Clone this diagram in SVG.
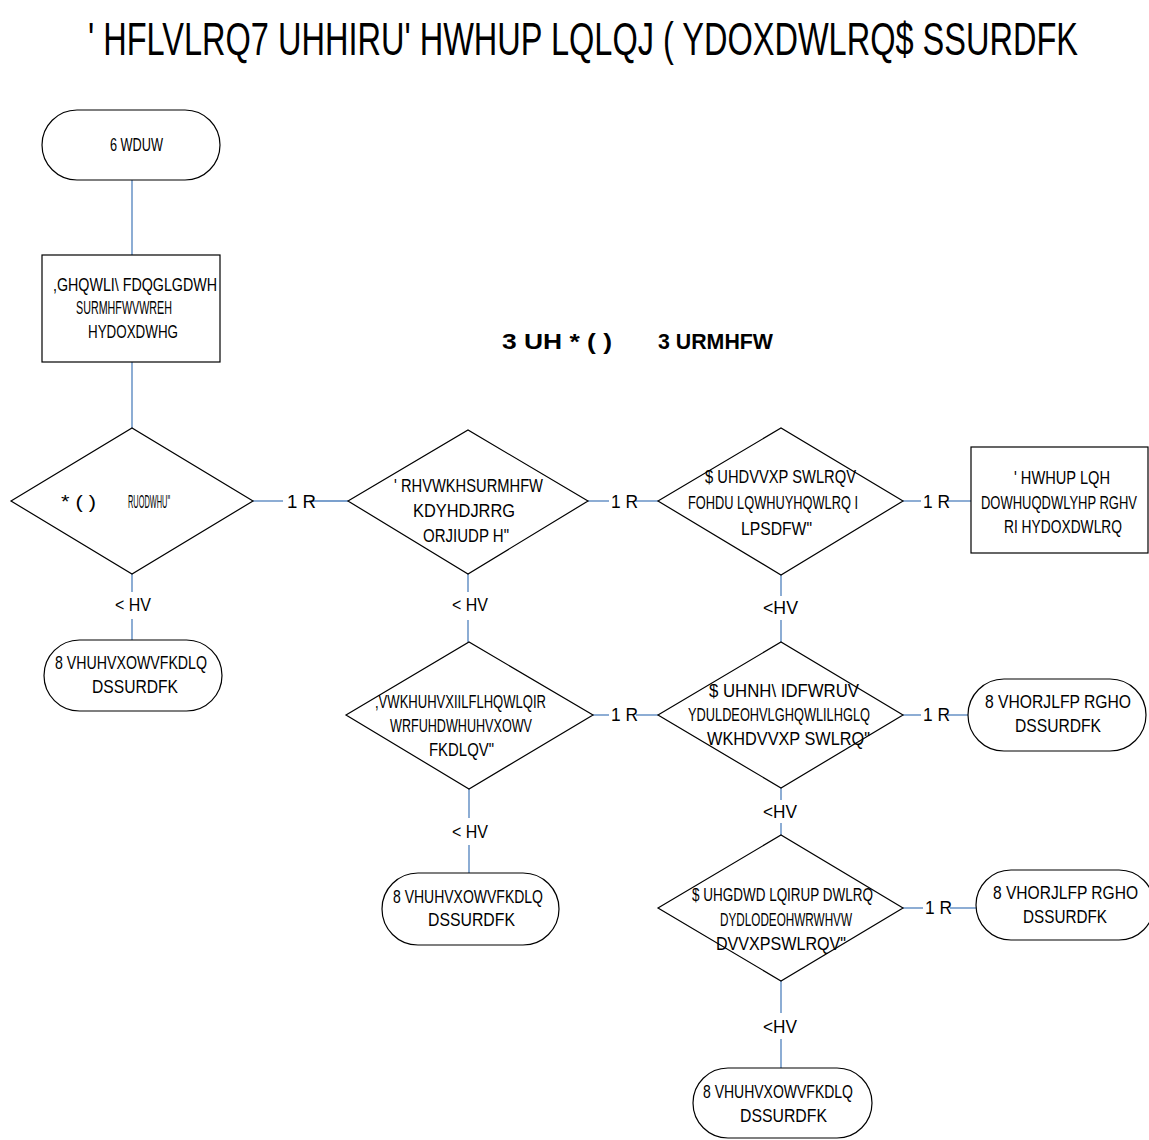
<svg xmlns="http://www.w3.org/2000/svg" width="1149" height="1140" viewBox="0 0 1149 1140">
  <style>
    .bg { fill: #ffffff; }
    .shape { fill: #ffffff; stroke: #000000; stroke-width: 1.2; }
    .conn { fill: none; stroke: #4F81BD; stroke-width: 1.3; }
    text { font-family: "Liberation Sans", Arial, sans-serif; fill: #000000; }
    .t { font-size: 19px; }
    .lbl { font-size: 19px; }
    .title { font-size: 46px; }
    .head { font-size: 22px; font-weight: bold; }
  </style>
  <rect class="bg" x="0" y="0" width="1149" height="1140"/>

  <!-- heading -->
  <g id="title">
    <text class="title" x="88" y="55" textLength="990" lengthAdjust="spacingAndGlyphs">' HFLVLRQ7 UHHIRU' HWHUP LQLQJ ( YDOXDWLRQ$ SSURDFK</text>
  </g>
  <g id="section-heading">
    <text class="head" x="502" y="349" textLength="110" lengthAdjust="spacingAndGlyphs">3 UH * ( )</text>
    <text class="head" x="658" y="349" textLength="115" lengthAdjust="spacingAndGlyphs">3 URMHFW</text>
  </g>

  <!-- connectors -->
  <g id="connectors" class="conn">
    <line x1="132" y1="180" x2="132" y2="255"/>
    <line x1="132" y1="362" x2="132" y2="428"/>
    <line x1="132" y1="574" x2="132" y2="592"/>
    <line x1="132" y1="619" x2="132" y2="640"/>
    <line x1="253" y1="501" x2="283" y2="501"/>
    <line x1="309" y1="501" x2="348" y2="501"/>
    <line x1="588" y1="501" x2="609" y2="501"/>
    <line x1="636" y1="501" x2="658" y2="501"/>
    <line x1="903" y1="501" x2="921" y2="501"/>
    <line x1="948" y1="501" x2="971" y2="501"/>
    <line x1="468" y1="574" x2="468" y2="592"/>
    <line x1="468" y1="620" x2="468" y2="642"/>
    <line x1="781" y1="575" x2="781" y2="596"/>
    <line x1="781" y1="620" x2="781" y2="642"/>
    <line x1="593" y1="715" x2="609" y2="715"/>
    <line x1="636" y1="715" x2="658" y2="715"/>
    <line x1="903" y1="715" x2="921" y2="715"/>
    <line x1="947" y1="715" x2="968" y2="715"/>
    <line x1="469" y1="789" x2="469" y2="818"/>
    <line x1="469" y1="845" x2="469" y2="873"/>
    <line x1="781" y1="788" x2="781" y2="800"/>
    <line x1="781" y1="823" x2="781" y2="835"/>
    <line x1="903" y1="908" x2="923" y2="908"/>
    <line x1="950" y1="908" x2="976" y2="908"/>
    <line x1="781" y1="981" x2="781" y2="1013"/>
    <line x1="781" y1="1039" x2="781" y2="1068"/>
  </g>

  <!-- connector labels -->
  <g id="connector-labels" class="lbl">
    <text x="287" y="508" textLength="29" lengthAdjust="spacingAndGlyphs">1 R</text>
    <text x="611" y="508" textLength="27" lengthAdjust="spacingAndGlyphs">1 R</text>
    <text x="923" y="508" textLength="27" lengthAdjust="spacingAndGlyphs">1 R</text>
    <text x="611" y="721" textLength="27" lengthAdjust="spacingAndGlyphs">1 R</text>
    <text x="923" y="721" textLength="27" lengthAdjust="spacingAndGlyphs">1 R</text>
    <text x="925" y="914" textLength="27" lengthAdjust="spacingAndGlyphs">1 R</text>
    <text x="115" y="611" textLength="36" lengthAdjust="spacingAndGlyphs">&lt; HV</text>
    <text x="452" y="611" textLength="36" lengthAdjust="spacingAndGlyphs">&lt; HV</text>
    <text x="763" y="614" textLength="35" lengthAdjust="spacingAndGlyphs">&lt;HV</text>
    <text x="452" y="838" textLength="36" lengthAdjust="spacingAndGlyphs">&lt; HV</text>
    <text x="763" y="818" textLength="34" lengthAdjust="spacingAndGlyphs">&lt;HV</text>
    <text x="763" y="1033" textLength="34" lengthAdjust="spacingAndGlyphs">&lt;HV</text>
  </g>

  <!-- nodes -->
  <g id="start">
    <rect class="shape" x="42" y="110" width="178" height="70" rx="35" ry="35"/>
    <text class="t" x="110" y="151" textLength="53" lengthAdjust="spacingAndGlyphs">6 WDUW</text>
  </g>

  <g id="identify-projects">
    <rect class="shape" x="42" y="255" width="178" height="107"/>
    <text class="t" x="53" y="291" textLength="164" lengthAdjust="spacingAndGlyphs">,GHQWLI\   FDQGLGDWH</text>
    <text class="t" x="76" y="314" textLength="96" lengthAdjust="spacingAndGlyphs">SURMHFWVWREH</text>
    <text class="t" x="88" y="338" textLength="90" lengthAdjust="spacingAndGlyphs">HYDOXDWHG</text>
  </g>

  <g id="decision-gef">
    <polygon class="shape" points="11,501 132,428 253,501 132,574"/>
    <text class="t" x="61" y="508" textLength="35" lengthAdjust="spacingAndGlyphs">* ( )</text>
    <text class="t" x="128" y="508" textLength="42" lengthAdjust="spacingAndGlyphs">RUODWHU"</text>
  </g>

  <g id="decision-logframe">
    <polygon class="shape" points="348,501 468,430 588,501 468,574"/>
    <text class="t" x="394" y="492" textLength="149" lengthAdjust="spacingAndGlyphs">' RHVWKHSURMHFW</text>
    <text class="t" x="413" y="517" textLength="102" lengthAdjust="spacingAndGlyphs">KDYHDJRRG</text>
    <text class="t" x="423" y="542" textLength="86" lengthAdjust="spacingAndGlyphs">ORJIUDP H"</text>
  </g>

  <g id="decision-assumptions">
    <polygon class="shape" points="658,501 781,428 903,501 781,575"/>
    <text class="t" x="705" y="483" textLength="151" lengthAdjust="spacingAndGlyphs">$ UHDVVXP SWLRQV</text>
    <text class="t" x="688" y="509" textLength="170" lengthAdjust="spacingAndGlyphs">FOHDU  LQWHUYHQWLRQ I</text>
    <text class="t" x="741" y="535" textLength="71" lengthAdjust="spacingAndGlyphs">LPSDFW"</text>
  </g>

  <g id="alternative-modes">
    <rect class="shape" x="971" y="447" width="177" height="106"/>
    <text class="t" x="1014" y="484" textLength="96" lengthAdjust="spacingAndGlyphs">' HWHUP LQH</text>
    <text class="t" x="981" y="509" textLength="156" lengthAdjust="spacingAndGlyphs">DOWHUQDWLYHP RGHV</text>
    <text class="t" x="1004" y="533" textLength="118" lengthAdjust="spacingAndGlyphs">RI HYDOXDWLRQ</text>
  </g>

  <g id="results-chain-1">
    <rect class="shape" x="44" y="640" width="178" height="71" rx="35.5" ry="35.5"/>
    <text class="t" x="55" y="669" textLength="152" lengthAdjust="spacingAndGlyphs">8 VHUHVXOWVFKDLQ</text>
    <text class="t" x="92" y="693" textLength="86" lengthAdjust="spacingAndGlyphs">DSSURDFK</text>
  </g>

  <g id="decision-info">
    <polygon class="shape" points="346,715 469,642 593,715 469,789"/>
    <text class="t" x="375" y="708" textLength="171" lengthAdjust="spacingAndGlyphs">,VWKHUHVXIILFLHQWLQIR</text>
    <text class="t" x="390" y="732" textLength="142" lengthAdjust="spacingAndGlyphs">WRFUHDWHUHVXOWV</text>
    <text class="t" x="429" y="756" textLength="65" lengthAdjust="spacingAndGlyphs">FKDLQV"</text>
  </g>

  <g id="decision-factors">
    <polygon class="shape" points="658,715 781,642 903,715 781,788"/>
    <text class="t" x="709" y="697" textLength="150" lengthAdjust="spacingAndGlyphs">$ UHNH\   IDFWRUV</text>
    <text class="t" x="688" y="721" textLength="182" lengthAdjust="spacingAndGlyphs">YDULDEOHVLGHQWLILHGLQ</text>
    <text class="t" x="707" y="745" textLength="163" lengthAdjust="spacingAndGlyphs">WKHDVVXP SWLRQ"</text>
  </g>

  <g id="logic-model-1">
    <rect class="shape" x="968" y="679" width="178" height="72" rx="36" ry="36"/>
    <text class="t" x="985" y="708" textLength="146" lengthAdjust="spacingAndGlyphs">8 VHORJLFP RGHO</text>
    <text class="t" x="1015" y="732" textLength="86" lengthAdjust="spacingAndGlyphs">DSSURDFK</text>
  </g>

  <g id="results-chain-2">
    <rect class="shape" x="382" y="873" width="177" height="72" rx="36" ry="36"/>
    <text class="t" x="393" y="903" textLength="150" lengthAdjust="spacingAndGlyphs">8 VHUHVXOWVFKDLQ</text>
    <text class="t" x="428" y="926" textLength="87" lengthAdjust="spacingAndGlyphs">DSSURDFK</text>
  </g>

  <g id="decision-data">
    <polygon class="shape" points="658,908 781,835 903,908 781,981"/>
    <text class="t" x="692" y="901" textLength="181" lengthAdjust="spacingAndGlyphs">$ UHGDWD  LQIRUP DWLRQ</text>
    <text class="t" x="720" y="926" textLength="132" lengthAdjust="spacingAndGlyphs">DYDLODEOHWRWHVW</text>
    <text class="t" x="716" y="950" textLength="130" lengthAdjust="spacingAndGlyphs">DVVXPSWLRQV"</text>
  </g>

  <g id="logic-model-2">
    <rect class="shape" x="976" y="870" width="178" height="70" rx="35" ry="35"/>
    <text class="t" x="993" y="899" textLength="145" lengthAdjust="spacingAndGlyphs">8 VHORJLFP RGHO</text>
    <text class="t" x="1023" y="923" textLength="84" lengthAdjust="spacingAndGlyphs">DSSURDFK</text>
  </g>

  <g id="results-chain-3">
    <rect class="shape" x="693" y="1068" width="179" height="70" rx="35" ry="35"/>
    <text class="t" x="703" y="1098" textLength="150" lengthAdjust="spacingAndGlyphs">8 VHUHVXOWVFKDLQ</text>
    <text class="t" x="740" y="1122" textLength="87" lengthAdjust="spacingAndGlyphs">DSSURDFK</text>
  </g>
</svg>
